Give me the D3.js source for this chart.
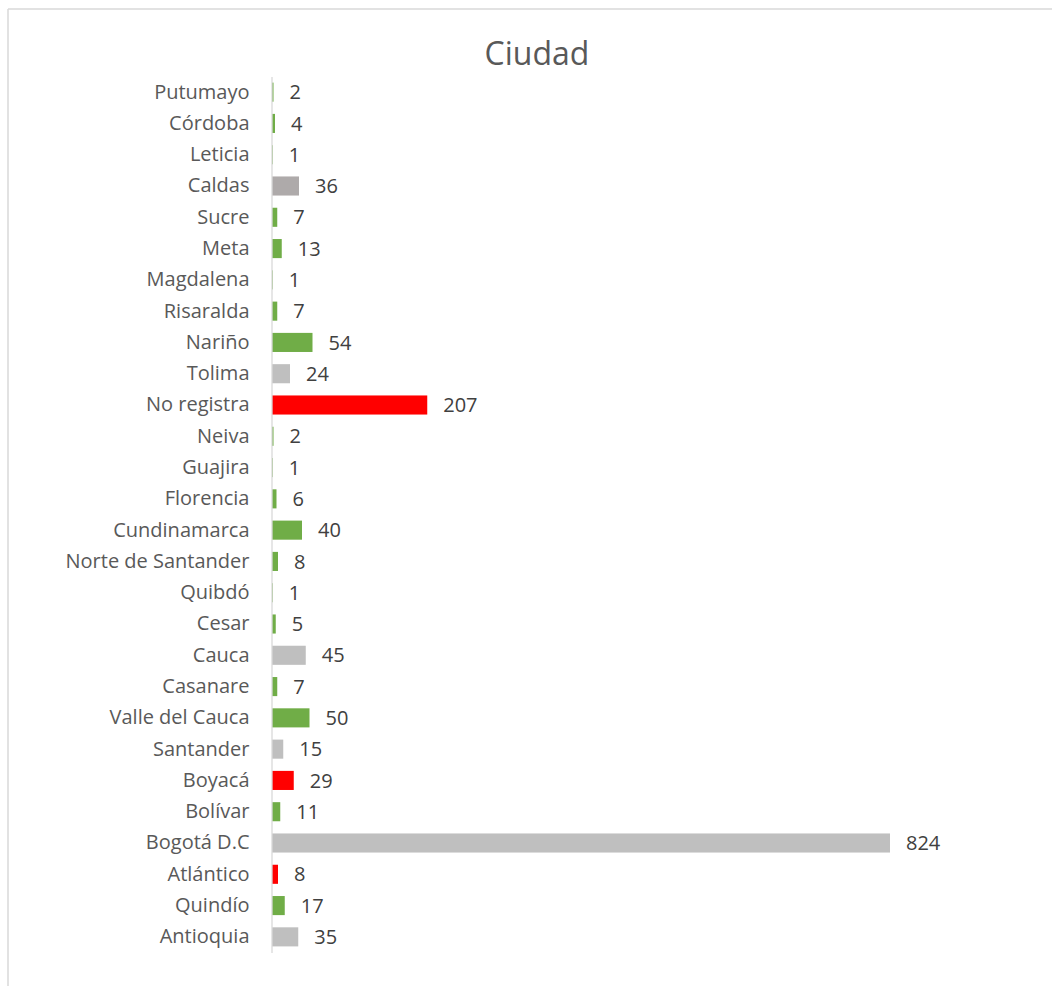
<!DOCTYPE html>
<html>
<head>
<meta charset="utf-8">
<script src="https://cdn.jsdelivr.net/npm/d3@7"></script>
<style>
  body { margin: 0; background: #fff; }
  svg { display: block; font-family: "Open Sans", sans-serif; }
</style>
</head>
<body>
<svg id="chart" width="1052" height="986"></svg>
<script>
// categories top to bottom, as in the picture
const cities = ['Putumayo', 'Córdoba', 'Leticia', 'Caldas', 'Sucre', 'Meta', 'Magdalena',
  'Risaralda', 'Nariño', 'Tolima', 'No registra', 'Neiva', 'Guajira', 'Florencia',
  'Cundinamarca', 'Norte de Santander', 'Quibdó', 'Cesar', 'Cauca', 'Casanare',
  'Valle del Cauca', 'Santander', 'Boyacá', 'Bolívar', 'Bogotá D.C', 'Atlántico',
  'Quindío', 'Antioquia'];
const counts = [2, 4, 1, 36, 7, 13, 1, 7, 54, 24, 207, 2, 1, 6, 40, 8, 1, 5, 45, 7, 50, 15, 29, 11, 824, 8, 17, 35];
// bar colour group per category
const groups = ['g', 'g', 'g', 'd', 'g', 'g', 'g', 'g', 'g', 's', 'r', 'g', 'g', 'g',
  'g', 'g', 'g', 'g', 's', 'g', 'g', 's', 'r', 'g', 's', 'r', 'g', 's'];

const palette = { g: '#70AD47', s: '#BFBFBF', d: '#AEAAAA', r: '#FF0000' };

const svg = d3.select('#chart');

// chart frame (only top and left edges show in the picture)
svg.append('line').attr('x1', 8).attr('x2', 1052).attr('y1', 9).attr('y2', 9)
  .attr('stroke', '#D9D9D9').attr('stroke-width', 1.5);
svg.append('line').attr('x1', 8).attr('x2', 8).attr('y1', 9).attr('y2', 986)
  .attr('stroke', '#D9D9D9').attr('stroke-width', 1.5);

svg.append('text')
  .attr('x', 537).attr('y', 65)
  .attr('text-anchor', 'middle')
  .attr('fill', '#595959')
  .attr('font-size', 32)
  .text('Ciudad');

const x = d3.scaleLinear().domain([0, 824]).range([272, 890]);
const y = d3.scaleBand().domain(cities).range([76.5, 952.5])
  .paddingInner(0.39).paddingOuter(0.195);

const data = cities.map((c, i) => ({ city: c, n: counts[i], grp: groups[i] }));

svg.selectAll('.bar')
  .data(data)
  .enter().append('rect')
  .attr('class', 'bar')
  .attr('x', x(0))
  .attr('y', d => y(d.city))
  .attr('width', d => x(d.n) - x(0))
  .attr('height', y.bandwidth())
  .attr('fill', d => palette[d.grp]);

// category axis
const axis = svg.append('g')
  .attr('transform', `translate(${x(0) - 0.5},0)`)
  .call(d3.axisLeft(y).tickSize(0).tickPadding(22));
axis.select('.domain').attr('stroke', '#D9D9D9').attr('stroke-width', 1.3);
axis.selectAll('text')
  .attr('font-size', 20)
  .attr('fill', '#595959')
  .style('font-family', '"Open Sans", sans-serif');

svg.selectAll('.val')
  .data(data)
  .enter().append('text')
  .attr('class', 'val')
  .attr('x', d => x(d.n) + 16)
  .attr('y', d => y(d.city) + y.bandwidth() / 2)
  .attr('dy', '0.36em')
  .attr('font-size', 20)
  .attr('fill', '#404040')
  .text(d => d.n);
</script>
</body>
</html>
